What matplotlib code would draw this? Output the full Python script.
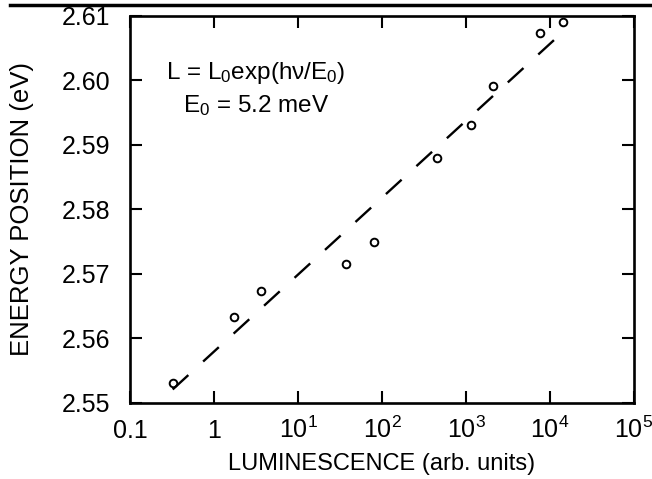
import numpy as np
import matplotlib
matplotlib.use('Agg')
import matplotlib.pyplot as plt
from matplotlib.lines import Line2D

plt.rcParams['font.family'] = ['Liberation Sans', 'DejaVu Sans']
plt.rcParams['mathtext.default'] = 'regular'

# measured points
lum = [0.327, 1.73, 3.66, 37.3, 81, 448, 1137, 2080, 7600, 14400]
energy = [2.5531, 2.5634, 2.5673, 2.5715, 2.5750, 2.5880, 2.5931, 2.5992, 2.6074, 2.6091]

# fitted line L = L0 exp(hv/E0), E0 = 5.2 meV
fit_lum = [0.322, 14160]
fit_energy = [2.5521, 2.6075]

xticks = [0.1, 1, 10, 100, 1e3, 1e4, 1e5]
xtick_labels = ['0.1', '1', '$10^1$', '$10^2$', '$10^3$', '$10^4$', '$10^5$']
yticks = [2.55, 2.56, 2.57, 2.58, 2.59, 2.60, 2.61]

fig = plt.figure(figsize=(6.52, 4.79), dpi=100)
ax = fig.add_axes([0.1994, 0.1587, 0.7730, 0.8079])

ax.plot(fit_lum, fit_energy, color='black', lw=1.7, dashes=(9, 8.5))
ax.plot(lum, energy, 'o', mfc='none', mec='black', ms=5.5, mew=1.4)

ax.set_xscale('log')
ax.set_xlim(0.1, 1e5)
ax.set_ylim(2.55, 2.61)
ax.xaxis.set_minor_locator(matplotlib.ticker.NullLocator())
ax.set_xticks(xticks)
ax.set_xticklabels(xtick_labels)
ax.set_yticks(yticks)
ax.set_yticklabels(['%.2f' % v for v in yticks])

for s in ax.spines.values():
    s.set_linewidth(1.9)
ax.tick_params(which='major', direction='in', length=8.5, width=1.5,
               top=True, right=True, labelsize=18)
ax.tick_params(axis='x', pad=25)
ax.tick_params(axis='y', pad=14)
for lbl in ax.get_xticklabels():
    lbl.set_va('baseline')

ax.set_xlabel('LUMINESCENCE (arb. units)', fontsize=17)
ax.xaxis.label.set_va('baseline')
ax.xaxis.set_label_coords(0.5, -0.172)
ax.set_ylabel('ENERGY POSITION (eV)', fontsize=18.5)
ax.yaxis.set_label_coords(-0.19, 0.5)

ax.text(0.25, 0.837, 'L = L$_0$exp(h\u03bd/E$_0$)', transform=ax.transAxes,
        ha='center', va='baseline', fontsize=17.5)
ax.text(0.25, 0.752, 'E$_0$ = 5.2 meV', transform=ax.transAxes,
        ha='center', va='baseline', fontsize=17.5)

# thick rule along the top of the page
fig.add_artist(Line2D([0.015, 1.0], [0.99, 0.99], color='black', lw=2.5,
                      transform=fig.transFigure))

fig.savefig('out.png', dpi=100)
